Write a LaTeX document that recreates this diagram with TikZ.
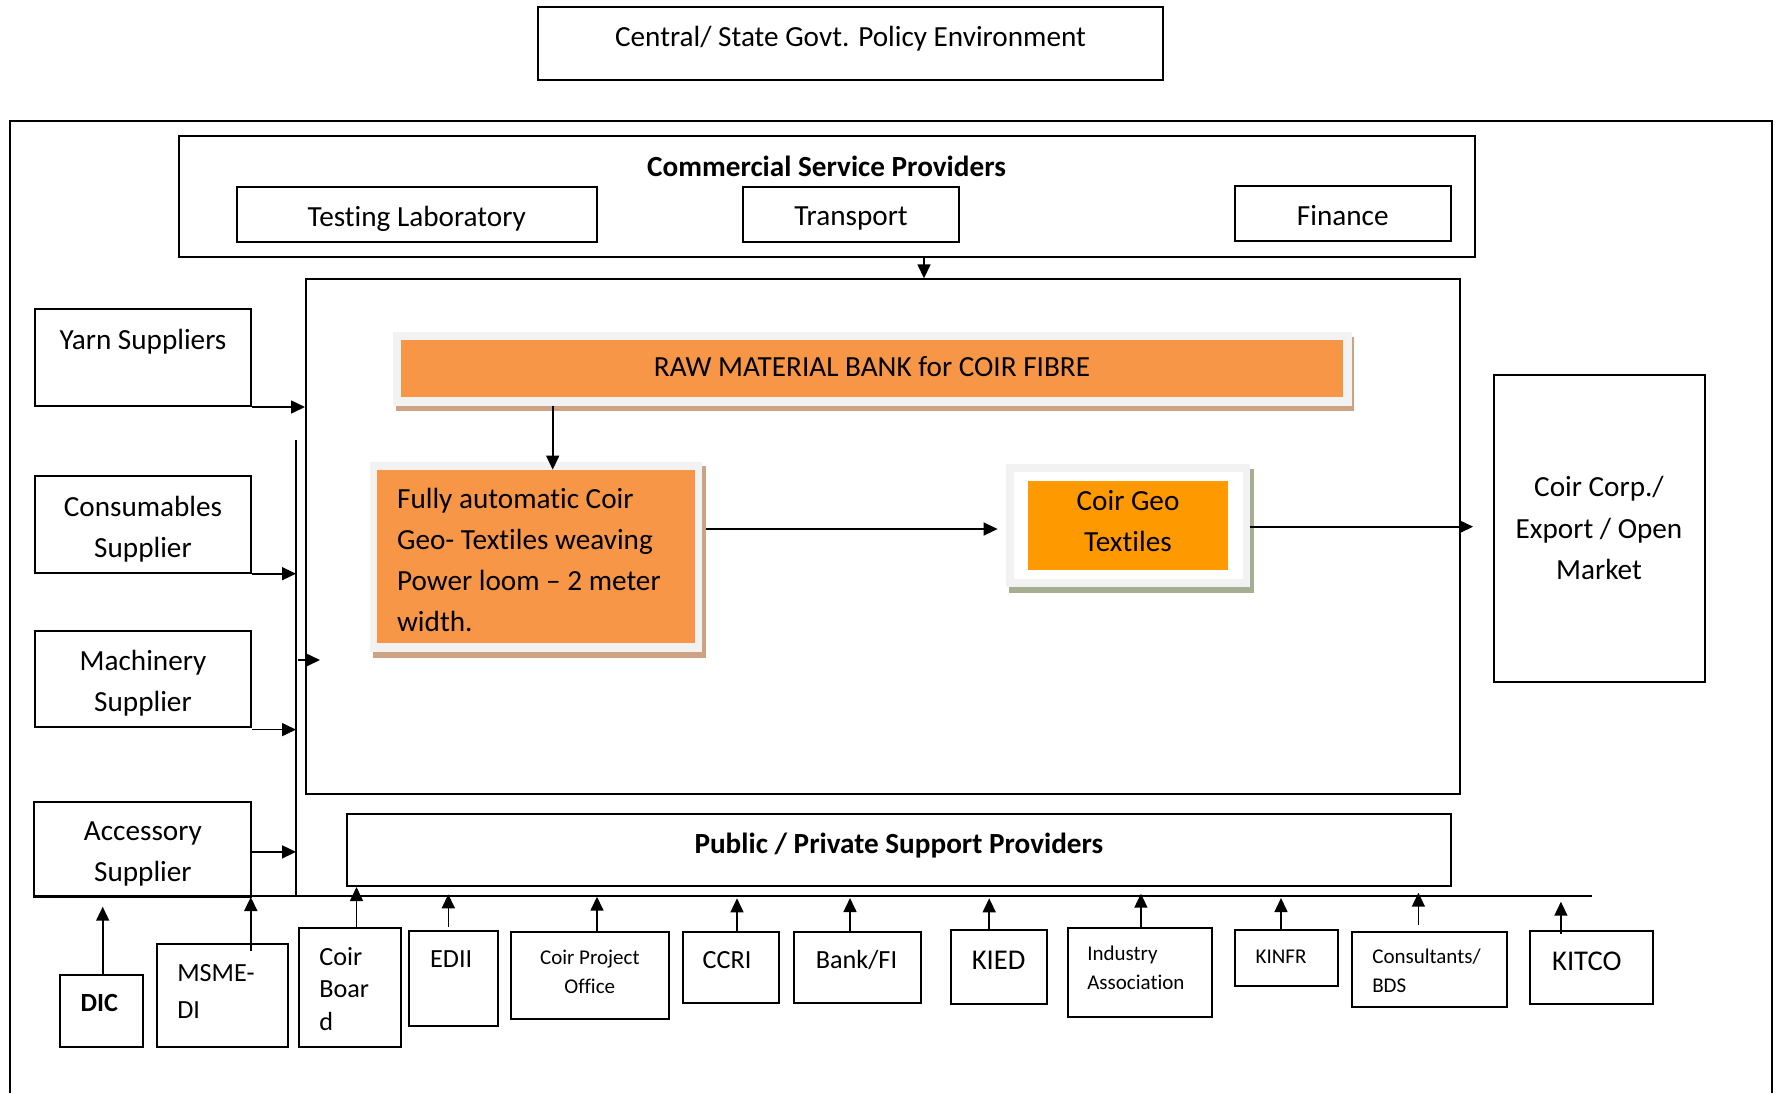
\documentclass[tikz,border=0pt]{standalone}
\usepackage{fontspec}
\setmainfont{Carlito}[Ligatures=NoCommon]
\usetikzlibrary{fit,arrows.meta,calc}
\definecolor{rawor}{HTML}{F79646}
\definecolor{rawsh}{HTML}{CDA383}
\definecolor{geoor}{HTML}{FF9900}
\definecolor{geosh}{HTML}{A5AE93}
\definecolor{frm}{HTML}{F2F2F2}
\newcommand\fmain{\fontsize{14.6pt}{20.5pt}\selectfont}
\newcommand\fbot{\fontsize{13.1pt}{18.5pt}\selectfont}
\newcommand\fboard{\fontsize{13.1pt}{16.3pt}\selectfont}
\newcommand\fsmall{\fontsize{10.5pt}{14.6pt}\selectfont}
\newcommand\fbig{\fontsize{14.3pt}{18pt}\selectfont}
\begin{document}
\begin{tikzpicture}[x=0.5pt,y=-0.5pt,
  bx/.style={draw, line width=1pt, inner sep=0pt},
  plain/.style={inner sep=0pt},
  arr/.style={line width=0.8pt, -{Triangle[length=7pt,width=6.5pt]}},
  ln/.style={line width=0.8pt},
  busline/.style={line width=1pt},
  fm/.style={font=\fmain, align=center, inner sep=0pt},
  fb/.style={font=\fbot, align=center, inner sep=0pt},
  fs/.style={font=\fsmall, align=center, inner sep=0pt},
  fg/.style={font=\fbig, align=center, inner sep=0pt}]
\useasboundingbox (0,0) rectangle (1781,1093);

% top policy box
\node[bx, fit={(538,7) (1163,80)}] (govt) {};
\node[fm] (govtT) at ([yshift=2.4pt]govt.center) {Central/ State Govt. Policy Environment};

% outer frame
\draw[line width=1pt] (10,1093) -- (10,121) -- (1772,121) -- (1772,1093);

% commercial service providers
\node[bx, fit={(178.5,136) (1474.7,256.7)}] (csp) {};
\node[fm, font=\fmain\bfseries] (cspT) at ([yshift=14.8pt]csp.center) {Commercial Service Providers};
\node[bx, fit={(236.5,187.3) (597,242.3)}] (lab) {};
\node[fm] (labT) at ([yshift=-1.8pt]lab.center) {Testing Laboratory};
\node[bx, fit={(742.8,187.3) (959.3,242.3)}] (transport) {};
\node[fm] (transportT) at ([yshift=-1.8pt]transport.center) {Transport};
\node[bx, fit={(1234.5,186) (1451,240.7)}] (finance) {};
\node[fm] (financeT) at ([yshift=-1pt]finance.center) {Finance};

% inner box
\node[bx, fit={(306,279.3) (1460.3,794.3)}] (inner) {};

% suppliers
\node[bx, fit={(35,309.3) (251,406)}] (yarn) {};
\node[fm] (yarnT) at ([yshift=8pt]yarn.center) {Yarn Suppliers};
\node[bx, fit={(35,476) (251,572.7)}] (cons) {};
\node[fm] (consT) at ([yshift=-2.3pt]cons.center) {Consumables\\Supplier};
\node[bx, fit={(35,630.7) (251,727)}] (mach) {};
\node[fm] (machT) at ([yshift=-2.3pt]mach.center) {Machinery\\Supplier};
\node[bx, fit={(34.4,801.7) (251.4,897.3)}] (acc) {};
\node[fm] (accT) at ([yshift=-2.2pt]acc.center) {Accessory\\Supplier};

% raw material bank
\fill[rawsh] (396,337) rectangle (1354.2,410.7);
\node[plain, fill=frm, fit={(393.4,332.3) (1351.5,406)}] (rawfr) {};
\node[plain, fill=rawor, fit={(400.7,340) (1343.2,397.3)}] (raw) {};
\node[fm] (rawT) at ([yshift=0.9pt]raw.center) {RAW MATERIAL BANK for COIR FIBRE};

% fully automatic loom
\fill[rawsh] (373,466) rectangle (706,657.7);
\node[plain, fill=frm, fit={(370,462) (702.3,651.7)}] (fullyfr) {};
\node[plain, fill=rawor, fit={(377.3,470) (695,643.3)}] (fully) {};
\node[fm, align=left, anchor=west] (fullyT) at ([xshift=9.9pt,yshift=-1.6pt]fully.west)
  {Fully automatic Coir\\Geo- Textiles weaving\\Power loom -- 2 meter\\width.};

% coir geo textiles
\fill[geosh] (1009,468.7) rectangle (1253.6,592.7);
\node[plain, fill=frm, fit={(1006,464) (1250,586.7)}] (geofr) {};
\node[plain, fill=white, fit={(1013.7,472) (1242.6,579)}] (geowh) {};
\node[plain, fill=geoor, fit={(1028,481) (1228,569.7)}] (geo) {};
\node[fm] (geoT) at ([yshift=2pt]geo.center) {Coir Geo\\Textiles};

% market
\node[bx, fit={(1493.5,375) (1704.5,681.7)}] (corp) {};
\node[fm, font=\fontsize{14.6pt}{20.8pt}\selectfont] (corpT) at (corp.center) {Coir Corp./\\Export / Open\\Market};

% public/private support
\node[bx, fit={(346.7,813.7) (1451,886)}] (pub) {};
\node[fm, font=\fmain\bfseries] (pubT) at ([yshift=2.3pt]pub.center) {Public / Private Support Providers};

% bottom boxes
\node[bx, fit={(59.7,974.7) (143,1047.3)}] (dic) {};
\node[fb, font=\fbot\bfseries] (dicT) at ([yshift=4pt,xshift=-1pt]dic.center) {DIC};
\node[bx, fit={(156.7,944.3) (288,1047.3)}] (msme) {};
\node[fb, align=left, anchor=west] (msmeT) at ([xshift=10.6pt,yshift=2.1pt]msme.west) {MSME-\\DI};
\node[bx, fit={(298.5,928.3) (400.6,1047.3)}] (board) {};
\node[font=\fboard, align=left, anchor=west, inner sep=0pt] (boardT) at ([xshift=10.7pt,yshift=-0.6pt]board.west) {Coir\\Boar\\d};
\node[bx, fit={(408.7,931) (497.7,1025.7)}] (edii) {};
\node[fb] (ediiT) at ([yshift=9.7pt,xshift=-1pt]edii.center) {EDII};
\node[bx, fit={(510.9,931.7) (668.7,1019.3)}] (cpo) {};
\node[fs] (cpoT) at ([yshift=2pt]cpo.center) {Coir Project\\Office};
\node[bx, fit={(683,931.7) (779,1003.3)}] (ccri) {};
\node[fb] (ccriT) at ([yshift=3.6pt,xshift=-2pt]ccri.center) {CCRI};
\node[bx, fit={(794.4,931.7) (921.4,1003.3)}] (bank) {};
\node[fb] (bankT) at ([yshift=4pt,xshift=-0.7pt]bank.center) {Bank/FI};
\node[bx, fit={(950.7,930) (1046.6,1003.7)}] (kied) {};
\node[fg] (kiedT) at ([yshift=3.5pt]kied.center) {KIED};
\node[bx, fit={(1067.9,928.3) (1212.1,1016.7)}] (ia) {};
\node[fs, align=left, anchor=west] (iaT) at ([xshift=10pt,yshift=2.2pt]ia.west) {Industry\\Association};
\node[bx, fit={(1235,930) (1338,986)}] (kinfr) {};
\node[fs] (kinfrT) at ([xshift=-2.7pt,yshift=0.5pt]kinfr.center) {KINFR};
\node[bx, fit={(1351.7,931.7) (1506.9,1006.7)}] (consl) {};
\node[fs, align=left, anchor=west] (conslT) at ([xshift=10.6pt,yshift=-0.9pt]consl.west) {Consultants/\\BDS};
\node[bx, fit={(1530.4,931) (1652.8,1003.7)}] (kitco) {};
\node[fg] (kitcoT) at ([yshift=3.2pt,xshift=-2.4pt]kitco.center) {KITCO};

% ---- connectors ----
\coordinate (c1) at (924,268);
\draw[arr] (csp.south -| c1) -- (inner.north -| c1);

\draw[arr] (yarn.south east) -- (inner.west |- yarn.south east);

\coordinate (vt) at (296,440);
\coordinate (vb) at (296,896);
\draw[ln] (vt) -- (vb);
\draw[arr] (cons.south east) -- (vt |- cons.south east);
\coordinate (st1) at (298,660);
\coordinate (st2) at (320,660);
\draw[arr] (st1) -- (st2);
\coordinate (machA) at ([yshift=-0.8pt]mach.south east);
\draw[arr] (machA) -- (vt |- machA);
\coordinate (accA) at ([yshift=-1.2pt]acc.east);
\draw[arr] (accA) -- (vt |- accA);

\coordinate (busL) at (34.4,896);
\coordinate (busR) at (1592,896);
\draw[busline] (busL) -- (busR);

\coordinate (rf) at (552.7,430);
\draw[arr] (rawfr.south -| rf) -- (fully.north -| rf);
\coordinate (fgc) at (800,529);
\coordinate (fgA) at ([xshift=1.8pt]fullyfr.east |- fgc);
\coordinate (fgB) at ([xshift=-4pt]geofr.west |- fgc);
\draw[arr] (fgA) -- (fgB);
\coordinate (gcc) at (1350,526.7);
\coordinate (gcB) at ([xshift=-9.7pt]corp.west |- gcc);
\draw[arr] (geofr.east |- gcc) -- (gcB);

% bottom arrows
\coordinate (tDIC) at (102.7,906.7);
\draw[arr] (dic.north -| tDIC) -- (tDIC);
\coordinate (tMS) at (250.8,897);
\draw[arr] ($(msme.north -| tMS)+(0,7.4)$) -- (tMS);
\coordinate (tCB) at (356.5,886);
\draw[arr] (board.north -| tCB) -- (pub.south -| tCB);
\coordinate (tED) at (448.3,894.3);
\draw[arr] ($(edii.north -| tED)+(0,-3.3)$) -- (tED);
\coordinate (tCP) at (597,896.7);
\draw[arr] (cpo.north -| tCP) -- (tCP);
\coordinate (tCC) at (737,898.3);
\draw[arr] (ccri.north -| tCC) -- (tCC);
\coordinate (tBK) at (850,898);
\draw[arr] (bank.north -| tBK) -- (tBK);
\coordinate (tKD) at (989.2,898.3);
\draw[arr] (kied.north -| tKD) -- (tKD);
\coordinate (tIA) at (1140.9,893.7);
\draw[arr] (ia.north -| tIA) -- (tIA);
\coordinate (tKN) at (1281,898);
\draw[arr] (kinfr.north -| tKN) -- (tKN);
\coordinate (tCO) at (1418.4,892.7);
\draw[arr] ($(consl.north -| tCO)+(0,-5.7)$) -- (tCO);
\coordinate (tKT) at (1560.9,901.7);
\draw[arr] ($(kitco.north -| tKT)+(0,4)$) -- (tKT);
\end{tikzpicture}
\end{document}
